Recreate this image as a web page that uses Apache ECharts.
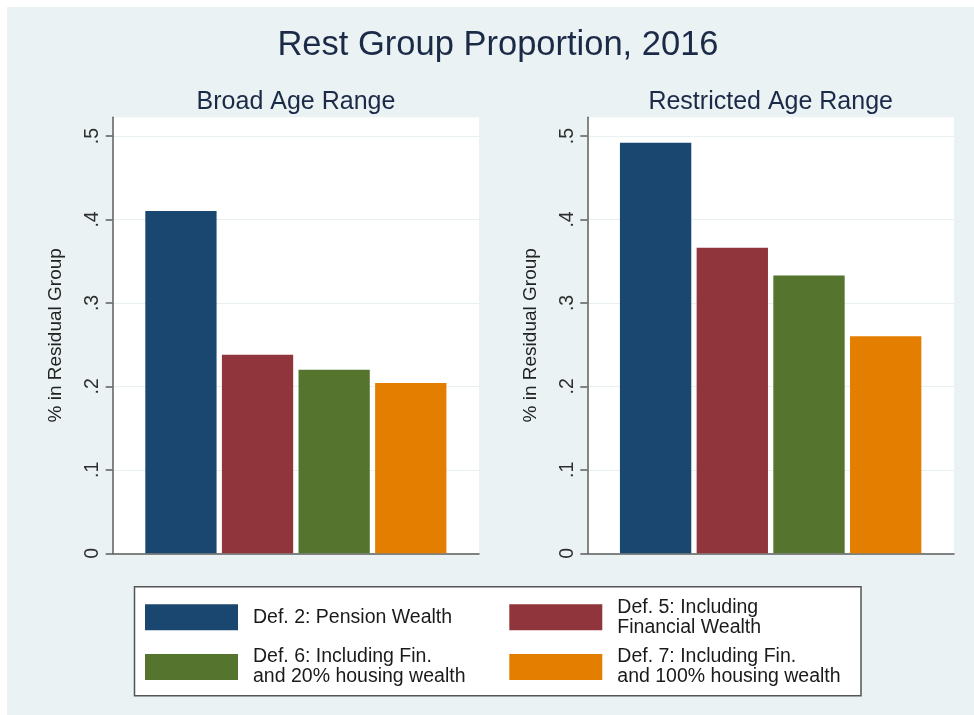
<!DOCTYPE html>
<html>
<head>
<meta charset="utf-8">
<script src="https://cdn.jsdelivr.net/npm/echarts@6/dist/echarts.min.js"></script>
<style>
  html, body { margin: 0; padding: 0; background: #ffffff; }
  #chart { position: absolute; left: 7px; top: 7px; width: 967px; height: 708px; }
</style>
</head>
<body>
<div id="chart"></div>
<script>
// Chart texts and values
const chartTitle = 'Rest Group Proportion, 2016';
const panelTitles = ['Broad Age Range', 'Restricted Age Range'];
const seriesNames = [
  'Def. 2: Pension Wealth',
  'Def. 5: Including\nFinancial Wealth',
  'Def. 6: Including Fin.\nand 20% housing wealth',
  'Def. 7: Including Fin.\nand 100% housing wealth'
];
const broadValues = [0.41, 0.238, 0.22, 0.204];
const restrictedValues = [0.492, 0.366, 0.333, 0.26];
const tickValues = [0, 0.1, 0.2, 0.3, 0.4, 0.5];
const tickLabels = ['0', '.1', '.2', '.3', '.4', '.5'];
const yAxisTitle = '% in Residual Group';

// Styling
const FONT = "'Liberation Sans', Arial, sans-serif";
const colors = ['#1a476f', '#90353b', '#55752f', '#e37e00'];
const axisColor = '#5e5e5e';
const OX = 7, OY = 7; // chart canvas offset inside the page
const panelValues = [broadValues, restrictedValues];

// Panel boxes in page pixels
const panels = [
  { left: 112.7, top: 117.3, width: 366.3, height: 436 },
  { left: 587.3, top: 117.3, width: 366.7, height: 436 }
];

const chart = echarts.init(document.getElementById('chart'), null, { renderer: 'canvas' });

const grids = panels.map(p => ({
  left: p.left - OX, top: p.top - OY, width: p.width, height: p.height,
  show: true, backgroundColor: '#ffffff', borderWidth: 0, containLabel: false
}));

const xAxes = panels.map((p, i) => ({
  type: 'category', gridIndex: i, data: [panelTitles[i]],
  axisTick: { show: false }, axisLabel: { show: false },
  axisLine: { show: true, lineStyle: { color: axisColor, width: 1.5 } },
  splitLine: { show: false }
}));

const tickLabelFor = v => {
  const idx = tickValues.findIndex(t => Math.abs(t - v) < 1e-9);
  return idx >= 0 ? tickLabels[idx] : '';
};

const yAxes = panels.map((p, i) => ({
  type: 'value', gridIndex: i, min: 0, max: 0.5224, interval: 0.1,
  axisLine: { show: true, onZero: false, lineStyle: { color: axisColor, width: 1.5 } },
  axisTick: { show: true, length: 7, customValues: tickValues, lineStyle: { color: axisColor, width: 1.5 } },
  axisLabel: {
    customValues: tickValues, rotate: 90, margin: 10,
    fontSize: 19.5, fontFamily: FONT, color: '#2e2e2e', formatter: tickLabelFor
  },
  splitLine: { show: true, lineStyle: { color: '#e8f0f2', width: 1 } },
  name: yAxisTitle, nameLocation: 'middle', nameGap: 47,
  nameTextStyle: { fontSize: 19, fontFamily: FONT, color: '#222222' }
}));

const series = [];
panelValues.forEach((vals, p) => {
  vals.forEach((v, k) => {
    series.push({
      type: 'bar', name: seriesNames[k], xAxisIndex: p, yAxisIndex: p,
      data: [v], barGap: '7.5%', barCategoryGap: '17.8%',
      itemStyle: { color: colors[k] },
      emphasis: { disabled: true }, silent: true
    });
  });
});

// Legend: one component per entry, laid out as a 2x2 block
const legendSpots = [
  { left: 145, swatchTop: 604.3 },
  { left: 509.3, swatchTop: 604.3 },
  { left: 145, swatchTop: 654 },
  { left: 509.3, swatchTop: 654 }
];
const textPadTop = 3;
const legends = seriesNames.map((name, k) => {
  const lines = name.split('\n').length;
  const boxH = lines * 20 + textPadTop;
  const extra = boxH > 26 ? (boxH - 26) / 2 : 0;
  return {
    data: [name], left: legendSpots[k].left - OX, top: legendSpots[k].swatchTop - OY - extra,
    padding: 0, itemWidth: 93, itemHeight: 26, icon: 'rect', selectedMode: false, z: 10,
    textStyle: { fontSize: 19.5, lineHeight: 20, fontFamily: FONT, color: '#1a1a1a', padding: [textPadTop, 0, 0, 10] }
  };
});

const titles = [
  { text: chartTitle, left: 498 - OX, top: 45.5 - OY, textAlign: 'center', textVerticalAlign: 'middle', padding: 0,
    textStyle: { fontSize: 34.5, fontWeight: 'normal', fontFamily: FONT, color: '#1b2a47' } },
  { text: panelTitles[0], left: 296 - OX, top: 102.5 - OY, textAlign: 'center', textVerticalAlign: 'middle', padding: 0,
    textStyle: { fontSize: 25, fontWeight: 'normal', fontFamily: FONT, color: '#1b2a47' } },
  { text: panelTitles[1], left: 770.7 - OX, top: 102.5 - OY, textAlign: 'center', textVerticalAlign: 'middle', padding: 0,
    textStyle: { fontSize: 25, fontWeight: 'normal', fontFamily: FONT, color: '#1b2a47' } }
];

chart.setOption({
  backgroundColor: '#eaf2f3',
  animation: false,
  title: titles,
  grid: grids,
  xAxis: xAxes,
  yAxis: yAxes,
  legend: legends,
  graphic: [{
    type: 'rect', z: 1, silent: true,
    shape: { x: 134.5 - OX, y: 586.7 - OY, width: 726.5, height: 109 },
    style: { fill: '#ffffff', stroke: '#555555', lineWidth: 1.5 }
  }],
  series: series
});
</script>
</body>
</html>
